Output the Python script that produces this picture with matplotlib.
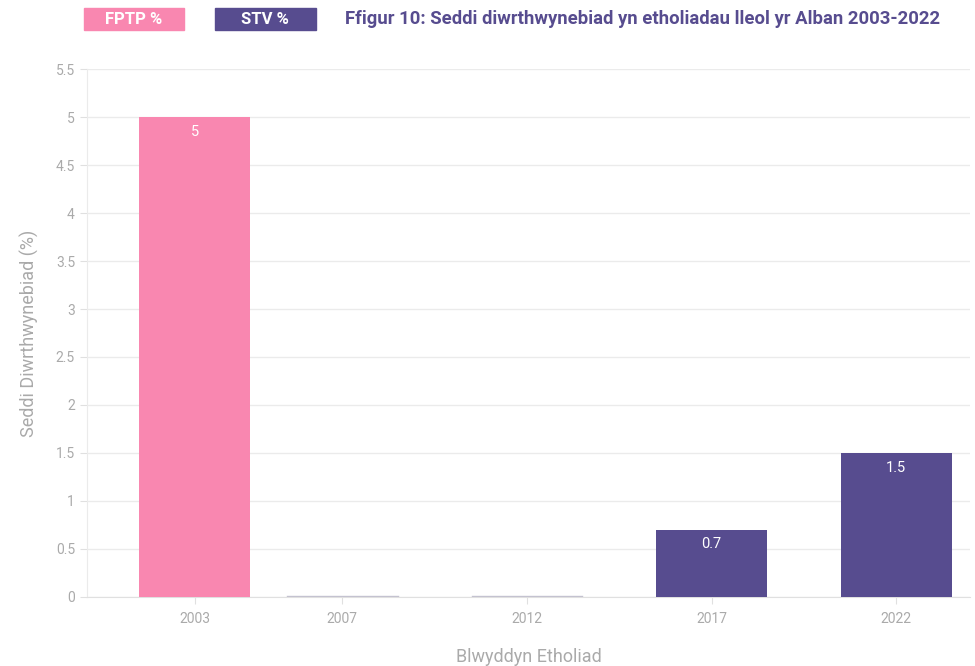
import matplotlib.pyplot as plt
from matplotlib.patches import Rectangle

years = [2003, 2007, 2012, 2017, 2022]
fptp = [5, None, None, None, None]
stv = [None, 0, 0, 0.7, 1.5]
yticks = [0, 0.5, 1, 1.5, 2, 2.5, 3, 3.5, 4, 4.5, 5, 5.5]

pink = '#f987b0'
purple = '#574c8f'
grey = '#aaaaaa'

plt.rcParams['font.family'] = ['Roboto', 'DejaVu Sans']

fig = plt.figure(figsize=(9.75, 6.66), dpi=100)
ax = fig.add_axes([0.089, 0.104, 0.906, 0.792])

width = 3.0
for x, f, s in zip(years, fptp, stv):
    if f is not None:
        ax.bar(x, f, width=width, color=pink, zorder=3)
        ax.text(x, f - 0.08, '%g' % f, color='white', ha='center', va='top', fontsize=10.5, zorder=4)
    if s is not None:
        if s == 0:
            ax.plot([x - width / 2, x + width / 2], [0.005, 0.005], color='#c4c2d0', lw=1, zorder=3)
        else:
            ax.bar(x, s, width=width, color=purple, zorder=3)
            ax.text(x, s - 0.08, '%g' % s, color='white', ha='center', va='top', fontsize=10.5, zorder=4)

ax.set_xlim(2000.08, 2024)
ax.set_ylim(0, 5.5)
ax.set_xticks(years)
ax.set_xticklabels([str(y) for y in years])
ax.set_yticks(yticks)
ax.set_yticklabels(['%g' % t for t in yticks])
ax.grid(axis='y', color='#ebebeb', lw=1, zorder=0)
for sp in ['top', 'right']:
    ax.spines[sp].set_visible(False)
ax.spines['left'].set_color('#ebebeb')
ax.spines['bottom'].set_color('#e0e0e0')
ax.tick_params(axis='both', colors='#e0e0e0', labelcolor=grey, labelsize=10, length=5)
ax.tick_params(axis='x', pad=6)

ax.set_xlabel('Blwyddyn Etholiad', color=grey, fontsize=13, labelpad=16)
ax.set_ylabel('Seddi Diwrthwynebiad (%)', color=grey, fontsize=13, labelpad=12)

# legend boxes and title
fig.patches.append(Rectangle((84 / 975, 1 - 30 / 666), 100 / 975, 22 / 666,
                             transform=fig.transFigure, color=pink, zorder=5))
fig.text(134 / 975, 1 - 19 / 666, 'FPTP %', color='white', fontsize=12, fontweight='bold',
         ha='center', va='center', zorder=6)
fig.patches.append(Rectangle((215 / 975, 1 - 30 / 666), 101 / 975, 22 / 666,
                             transform=fig.transFigure, color=purple, zorder=5))
fig.text(265 / 975, 1 - 19 / 666, 'STV %', color='white', fontsize=12, fontweight='bold',
         ha='center', va='center', zorder=6)
fig.text(345 / 975, 1 - 19 / 666, 'Ffigur 10: Seddi diwrthwynebiad yn etholiadau lleol yr Alban 2003-2022',
         color=purple, fontsize=13.3, fontweight='bold', ha='left', va='center')

fig.savefig('out.png', dpi=100)
